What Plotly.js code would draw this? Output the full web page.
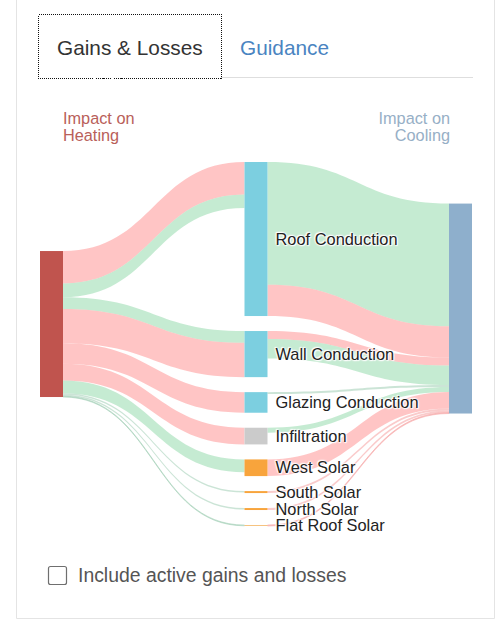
<!DOCTYPE html>
<html><head><meta charset="utf-8">
<script src="https://cdn.plot.ly/plotly-3.0.1.min.js"></script>
<style>
html,body{margin:0;padding:0;background:#fff;width:496px;height:620px;overflow:hidden;font-family:Arial,"Liberation Sans",sans-serif;}
#chart{position:absolute;left:0;top:0;width:496px;height:620px;}
#ui{position:absolute;left:0;top:0;width:496px;height:620px;pointer-events:none;}
#chart .node-label{text-shadow:0 0 2px #fff,0 0 2px #fff,0 0 3px #fff,1px 1px 1px #fff,-1px -1px 1px #fff !important;}
</style></head><body>
<div id="chart"></div>
<svg id="ui" width="496" height="620" xmlns="http://www.w3.org/2000/svg" font-family="Arial, 'Liberation Sans', sans-serif">
  <path d="M16.5,-2 V618.5 H494.5 V-2" fill="none" stroke="#e4e4e4" stroke-width="1"/>
  <line x1="221" y1="77.5" x2="473" y2="77.5" stroke="#dedede" stroke-width="1"/>
  <rect x="38.5" y="14.5" width="183" height="64" fill="none" stroke="#111" stroke-width="1" stroke-dasharray="1,1" shape-rendering="crispEdges"/>
  <text x="57" y="55" font-size="20.8" fill="#333">Gains &amp; Losses</text>
  <text x="240" y="55" font-size="20.8" fill="#4a84c1">Guidance</text>
  <text x="63" y="124" font-size="16.3" fill="#b9605a">Impact on</text>
  <text x="63" y="140.5" font-size="16.3" fill="#b9605a">Heating</text>
  <text x="450" y="124" font-size="16.3" fill="#97afc6" text-anchor="end">Impact on</text>
  <text x="450" y="140.5" font-size="16.3" fill="#97afc6" text-anchor="end">Cooling</text>
  <rect x="48.5" y="566.5" width="18" height="18" rx="2" fill="#fff" stroke="#6f6f6f" stroke-width="1.2"/>
  <text x="78" y="582" font-size="19.4" fill="#555">Include active gains and losses</text>
</svg>
<script>
// ---- data ----
const nodeLabels = ["", "Roof Conduction", "Wall Conduction", "Glazing Conduction", "Infiltration",
                    "West Solar", "South Solar", "North Solar", "Flat Roof Solar", ""];
const nodeGroups = ["heating", "conduction", "conduction", "conduction", "infiltration",
                    "solar", "solar", "solar", "solarFlat", "cooling"];

const linkSources = [0, 0, 0, 0, 0, 0, 0, 0, 0, 0,
                     1, 1, 2, 2, 3, 4, 5, 6, 7, 8];
const linkTargets = [1, 1, 2, 2, 3, 4, 5, 6, 7, 8,
                     9, 9, 9, 9, 9, 9, 9, 9, 9, 9];
const linkValues  = [33, 14, 12, 35, 21, 17, 13, 1.5, 1.5, 0.8,
                     125, 32, 8, 20, 2, 5, 17, 2, 2, 1];
const linkKinds   = ["loss", "gain", "gain", "loss", "loss", "loss", "gain", "minorGain", "minorGain", "minorGain",
                     "gain", "loss", "loss", "gain", "minorGain", "gain", "loss", "minorLoss", "minorLoss", "minorLoss"];

// ---- styles ----
const nodeColorMap = {
  heating: "#c0544e", conduction: "#7ccfe0", infiltration: "#cbcbcb",
  solar: "#f8a43c", solarFlat: "#f6c27e", cooling: "#8eafcc"
};
const linkColorMap = {
  loss: "rgba(255,140,140,0.5)", gain: "rgba(140,215,165,0.5)",
  minorGain: "rgba(160,205,180,0.55)", minorLoss: "rgba(245,160,160,0.55)"
};

const trace = {
  type: "sankey",
  arrangement: "snap",
  hoverinfo: "none",
  domain: {x: [0, 1], y: [0, 1]},
  node: {
    label: nodeLabels,
    color: nodeGroups.map(g => nodeColorMap[g]),
    pad: 15,
    thickness: 23,
    line: {width: 0},
    hoverinfo: "none"
  },
  link: {
    source: linkSources,
    target: linkTargets,
    value: linkValues,
    color: linkKinds.map(k => linkColorMap[k]),
    line: {width: 0},
    hoverinfo: "none"
  },
  textfont: {family: "Arial, 'Liberation Sans', sans-serif", size: 16.4, color: "#222"}
};

const layout = {
  width: 496, height: 620,
  margin: {l: 40, r: 24, t: 162, b: 94, pad: 0},
  paper_bgcolor: "#fff",
  plot_bgcolor: "#fff",
  showlegend: false
};

Plotly.newPlot("chart", [trace], layout, {staticPlot: true, displayModeBar: false}).then(function () {
  // move node labels a little further from their nodes, as in the reference
  document.querySelectorAll("#chart .node-label").forEach(function (el) {
    const t = el.getAttribute("transform") || "";
    el.setAttribute("transform", t + " translate(5,0)");
  });
});
</script>
</body></html>
